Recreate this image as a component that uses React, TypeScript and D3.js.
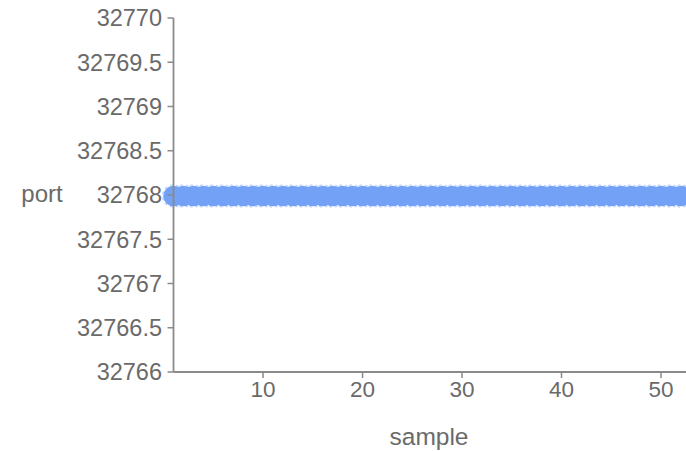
import React, { useEffect, useRef } from "react";
import * as d3 from "d3";

const samples = [
  1, 2, 3, 4, 5, 6, 7, 8, 9, 10, 11, 12, 13, 14, 15, 16, 17, 18, 19, 20,
  21, 22, 23, 24, 25, 26, 27, 28, 29, 30, 31, 32, 33, 34, 35, 36, 37, 38, 39, 40,
  41, 42, 43, 44, 45, 46, 47, 48, 49, 50, 51, 52, 53, 54,
];
const ports = [
  32768, 32768, 32768, 32768, 32768, 32768, 32768, 32768, 32768, 32768,
  32768, 32768, 32768, 32768, 32768, 32768, 32768, 32768, 32768, 32768,
  32768, 32768, 32768, 32768, 32768, 32768, 32768, 32768, 32768, 32768,
  32768, 32768, 32768, 32768, 32768, 32768, 32768, 32768, 32768, 32768,
  32768, 32768, 32768, 32768, 32768, 32768, 32768, 32768, 32768, 32768,
  32768, 32768, 32768, 32768,
];
const yTicks = [32766, 32766.5, 32767, 32767.5, 32768, 32768.5, 32769, 32769.5, 32770];
const xTicks = [10, 20, 30, 40, 50];
const xLabel = "sample";
const yLabel = "port";

const W = 686;
const H = 451;

export default function App() {
  const ref = useRef<SVGSVGElement>(null);
  useEffect(() => {
    const svg = d3.select(ref.current);
    svg.selectAll("*").remove();
    const x = d3.scaleLinear().domain([1, 50]).range([173.5, 661]);
    const y = d3.scaleLinear().domain([32766, 32770]).range([372, 18]);
    const font = "'Liberation Sans', Arial, sans-serif";
    const textColor = "#6a6a6a";
    const axisColor = "#8a8a8a";

    const data = samples.map((s, i) => ({ s, p: ports[i] }));
    // outline layer (under), then fill layer (over) so only outer envelope shows
    svg
      .append("g")
      .selectAll("circle")
      .data(data)
      .join("circle")
      .attr("cx", (d) => x(d.s))
      .attr("cy", (d) => y(d.p) + 1)
      .attr("r", 11)
      .attr("fill", "none")
      .attr("stroke", "#c9dafc")
      .attr("stroke-width", 1.6)
      .attr("stroke-dasharray", "3,3");
    svg
      .append("g")
      .selectAll("circle")
      .data(data)
      .join("circle")
      .attr("cx", (d) => x(d.s))
      .attr("cy", (d) => y(d.p) + 1)
      .attr("r", 10.3)
      .attr("fill", "#72a1f6");

    const gy = svg.append("g");
    gy.append("line")
      .attr("x1", 173.5).attr("x2", 173.5)
      .attr("y1", y(32770)).attr("y2", y(32766))
      .attr("stroke", axisColor).attr("stroke-width", 1.8);
    yTicks.forEach((t) => {
      gy.append("line")
        .attr("x1", 167.5).attr("x2", 173.5)
        .attr("y1", y(t)).attr("y2", y(t))
        .attr("stroke", axisColor).attr("stroke-width", 1.5);
      gy.append("text")
        .attr("x", 162)
        .attr("y", y(t))
        .attr("dy", "0.36em")
        .attr("text-anchor", "end")
        .attr("font-family", font)
        .attr("font-size", 23.5)
        .attr("fill", textColor)
        .text(String(t));
    });

    const gx = svg.append("g");
    gx.append("line")
      .attr("x1", 173.5).attr("x2", W)
      .attr("y1", 372).attr("y2", 372)
      .attr("stroke", axisColor).attr("stroke-width", 1.8);
    xTicks.forEach((t) => {
      gx.append("line")
        .attr("x1", x(t)).attr("x2", x(t))
        .attr("y1", 372).attr("y2", 378)
        .attr("stroke", axisColor).attr("stroke-width", 1.5);
      gx.append("text")
        .attr("x", x(t))
        .attr("y", 397)
        .attr("text-anchor", "middle")
        .attr("font-family", font)
        .attr("font-size", 22.5)
        .attr("fill", textColor)
        .text(String(t));
    });

    svg.append("text")
      .attr("x", 429)
      .attr("y", 445)
      .attr("text-anchor", "middle")
      .attr("font-family", font)
      .attr("font-size", 24.5)
      .attr("fill", textColor)
      .text(xLabel);

    svg.append("text")
      .attr("x", 42)
      .attr("y", 195)
      .attr("dy", "0.3em")
      .attr("text-anchor", "middle")
      .attr("font-family", font)
      .attr("font-size", 24)
      .attr("fill", textColor)
      .text(yLabel);
  }, []);

  return (
    <div style={{ position: "fixed", left: 0, top: 0 }}>
      <svg ref={ref} width={W} height={H} style={{ display: "block", background: "#fff" }} />
    </div>
  );
}
